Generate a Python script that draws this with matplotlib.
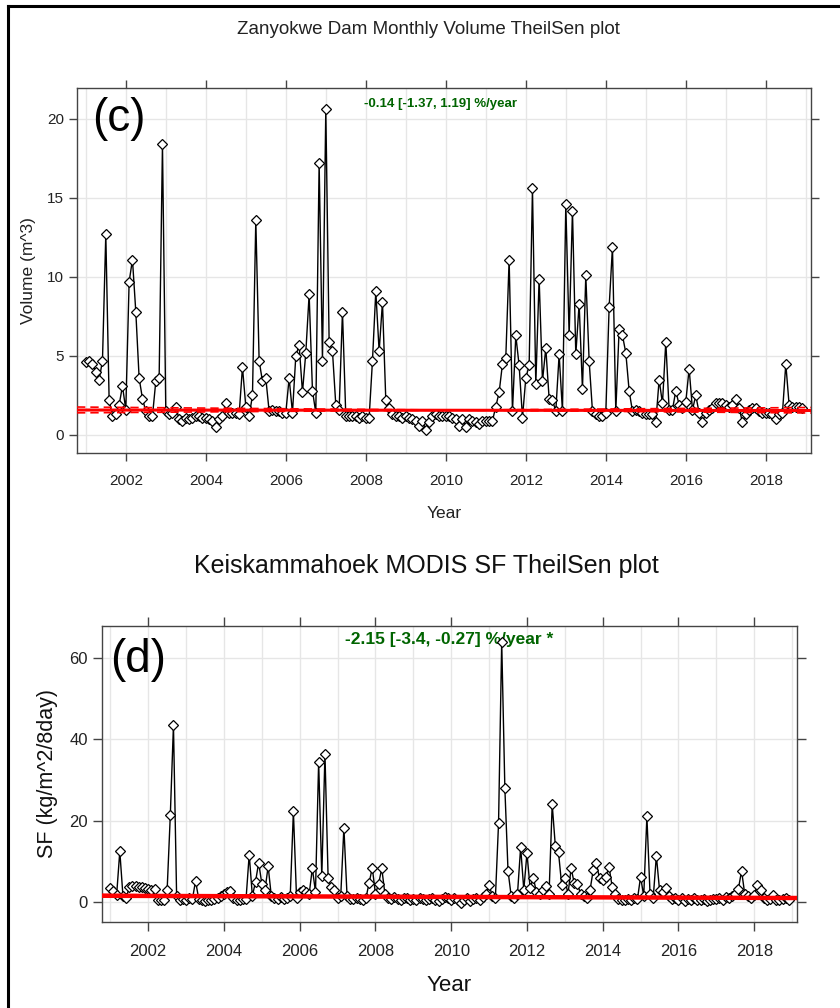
import matplotlib
matplotlib.use('Agg')
import matplotlib.pyplot as plt
import numpy as np
from matplotlib.lines import Line2D

# monthly series, Jan 2001 .. Dec 2018
volume = [
    4.6, 4.7, 4.5, 4.0, 3.5, 4.7, 12.7, 2.2, 1.2, 1.3, 1.9, 3.1,      # 2001
    1.6, 9.7, 11.1, 7.8, 3.6, 2.3, 1.5, 1.2, 1.2, 3.4, 3.6, 18.4,     # 2002
    1.5, 1.3, 1.4, 1.8, 1.0, 0.9, 1.1, 1.0, 1.1, 1.2, 1.2, 1.1,       # 2003
    1.1, 1.0, 0.9, 0.5, 1.0, 1.2, 2.0, 1.4, 1.4, 1.4, 1.3, 4.3,       # 2004
    1.8, 1.2, 2.5, 13.6, 4.7, 3.4, 3.6, 1.5, 1.6, 1.5, 1.5, 1.4,      # 2005
    1.4, 3.6, 1.4, 5.0, 5.7, 2.7, 5.2, 8.9, 2.8, 1.4, 17.2, 4.7,      # 2006
    20.6, 5.9, 5.3, 1.9, 1.6, 7.8, 1.2, 1.2, 1.2, 1.2, 1.1, 1.2,      # 2007
    1.1, 1.1, 4.7, 9.1, 5.3, 8.4, 2.2, 1.7, 1.3, 1.2, 1.2, 1.1,       # 2008
    1.2, 1.1, 1.0, 0.9, 0.6, 0.9, 0.3, 0.8, 1.2, 1.3, 1.2, 1.2,       # 2009
    1.2, 1.2, 1.1, 1.0, 0.6, 1.0, 0.5, 1.0, 0.9, 0.8, 0.7, 0.9,       # 2010
    0.9, 0.9, 0.9, 1.8, 2.7, 4.5, 4.9, 11.1, 1.5, 6.3, 4.4, 1.1,      # 2011
    3.6, 4.4, 15.6, 3.2, 9.9, 3.4, 5.5, 2.3, 2.2, 1.5, 5.1, 1.5,      # 2012
    14.6, 6.3, 14.2, 5.1, 8.3, 2.9, 10.1, 4.7, 1.5, 1.3, 1.2, 1.2,    # 2013
    1.4, 8.1, 11.9, 1.5, 6.7, 6.3, 5.2, 2.8, 1.5, 1.6, 1.5, 1.4,      # 2014
    1.3, 1.3, 1.3, 0.8, 3.5, 2.0, 5.9, 1.6, 1.6, 2.8, 1.9, 1.7,       # 2015
    2.1, 4.2, 1.6, 2.5, 1.4, 0.8, 1.4, 1.6, 1.7, 2.0, 2.0, 2.0,       # 2016
    1.9, 1.8, 1.9, 2.3, 1.7, 0.8, 1.3, 1.6, 1.7, 1.7, 1.5, 1.4,       # 2017
    1.4, 1.4, 1.3, 1.0, 1.3, 1.4, 4.5, 1.9, 1.8, 1.8, 1.8, 1.7,       # 2018
]

snowfall = [
    3.4, 2.7, 1.8, 12.5, 1.5, 1.0, 3.6, 4.0, 4.0, 3.8, 3.6, 3.5,      # 2001
    3.2, 3.0, 3.3, 0.6, 0.4, 0.6, 3.0, 21.3, 43.5, 1.5, 0.5, 0.8,     # 2002
    0.5, 1.0, 0.7, 5.2, 0.8, 0.5, 0.3, 0.6, 0.5, 0.8, 1.0, 1.5,       # 2003
    2.0, 2.5, 2.8, 1.0, 0.5, 0.5, 0.7, 0.8, 11.7, 1.5, 5.0, 9.7,      # 2004
    4.5, 3.0, 8.8, 1.5, 1.0, 0.8, 1.2, 0.8, 1.0, 1.5, 22.3, 1.0,      # 2005
    2.5, 3.0, 2.5, 2.0, 8.3, 2.5, 34.5, 6.3, 36.5, 6.0, 3.6, 3.0,     # 2006
    1.0, 1.5, 18.3, 1.5, 0.8, 0.7, 1.0, 0.8, 0.6, 1.0, 4.8, 8.4,      # 2007
    2.0, 4.5, 8.3, 2.0, 1.0, 0.8, 1.2, 0.8, 0.6, 0.9, 1.0, 0.5,       # 2008
    0.8, 0.5, 1.0, 0.7, 0.4, 0.8, 1.0, 0.6, 0.3, 0.8, 1.2, 0.9,       # 2009
    0.6, 1.0, 0.4, -0.2, 0.5, 0.9, 0.3, 0.8, 1.0, 0.6, 1.2, 2.0,      # 2010
    4.3, 1.5, 1.0, 19.4, 64.0, 28.0, 7.7, 1.5, 1.0, 2.0, 13.5, 3.0,   # 2011
    12.0, 3.5, 6.0, 2.5, 2.0, 3.0, 4.0, 2.0, 24.0, 13.7, 12.2, 4.2,   # 2012
    5.8, 2.0, 8.3, 4.6, 4.5, 2.0, 1.5, 1.0, 3.0, 7.9, 9.5, 5.8,       # 2013
    5.5, 6.2, 8.7, 3.8, 2.0, 0.8, 0.6, 0.5, 0.8, 0.5, 1.0, 0.7,       # 2014
    6.2, 1.5, 21.1, 2.0, 1.0, 11.4, 3.0, 2.5, 3.5, 1.5, 0.8, 1.0,     # 2015
    0.5, 1.0, 0.3, 0.8, 0.5, 1.0, 0.4, 0.6, 0.8, 0.3, 0.5, 0.7,       # 2016
    0.8, 1.0, 0.6, 1.2, 0.9, 1.5, 2.0, 3.3, 7.7, 2.0, 1.5, 1.0,       # 2017
    1.8, 4.2, 3.0, 1.0, 0.6, 0.8, 1.8, 0.5, 0.4, 0.8, 1.0, 0.5,       # 2018
]

start_year = 2001
years = start_year + np.arange(len(volume)) / 12.0
year_ticks = list(range(2002, 2019, 2))

# Theil-Sen lines: value at left / right edge of the axes
vol_trend = (1.58, 1.55)
vol_lower = (1.77, 1.39)
vol_upper = (1.40, 1.74)
sf_trend = (1.55, 1.00)
sf_lower = (1.85, 0.85)
sf_upper = (1.30, 1.20)

vol_label = '-0.14 [-1.37, 1.19] %/year'
sf_label = '-2.15 [-3.4, -0.27] %/year *'

FONT = ['Liberation Sans', 'DejaVu Sans']

W, H = 840, 1008
fig = plt.figure(figsize=(W / 100, H / 100), dpi=100)


def px_axes(l, t, r, b):
    return fig.add_axes([l / W, 1 - b / H, (r - l) / W, (b - t) / H])


def style_axes(ax, xlim, ylim, yticks, tick_fs, tick_len, xpad):
    ax.set_xlim(*xlim)
    ax.set_ylim(*ylim)
    ax.set_xticks(year_ticks)
    ax.set_xticks(range(2001, 2020), minor=True)
    ax.set_yticks(yticks)
    ax.grid(True, which='both', axis='x', color='#e6e6e6', lw=1)
    ax.grid(True, which='major', axis='y', color='#e6e6e6', lw=1)
    ax.set_axisbelow(True)
    for s in ax.spines.values():
        s.set_color('#444444')
        s.set_linewidth(1.0)
    ax.tick_params(which='major', direction='out', length=tick_len, width=1, color='#444444',
                   top=True, right=True, labelsize=tick_fs, labelcolor='#222222')
    ax.tick_params(axis='x', which='major', pad=xpad)
    ax.tick_params(which='minor', length=0)
    for lab in ax.get_xticklabels() + ax.get_yticklabels():
        lab.set_family(FONT)


def draw_series(ax, y, trend, lo, hi, lw_trend, xlim):
    ax.plot(years, y, color='black', lw=1.0, zorder=3)
    ax.plot(years, y, ls='none', marker='D', ms=5.5, mfc='white', mec='black', mew=0.9, zorder=4)
    ax.plot(xlim, trend, color='#ff0000', lw=lw_trend, zorder=5)
    ax.plot(xlim, lo, color='#ff0000', lw=1.2, ls=(0, (5, 3)), zorder=5)
    ax.plot(xlim, hi, color='#ff0000', lw=1.2, ls=(0, (5, 3)), zorder=5)


xlim = (2000.78, 2019.13)

# ---- panel (c) ----
ax1 = px_axes(77, 88, 811, 453)
draw_series(ax1, volume, vol_trend, vol_lower, vol_upper, 2.2, xlim)
style_axes(ax1, xlim, (-1.14, 21.96), [0, 5, 10, 15, 20], 11, 5.8, 9)
fig.text(428 / W, 1 - 30 / H, 'Zanyokwe Dam Monthly Volume TheilSen plot',
         ha='center', va='center', fontsize=13.5, family=FONT, color='#222222')
ax1.text(0.495, 0.955, vol_label, transform=ax1.transAxes, ha='center', va='center',
         fontsize=9.5, fontweight='bold', color='#006400', family=FONT)
ax1.text(0.02, 0.915, '(c)', transform=ax1.transAxes, ha='left', va='center',
         fontsize=33, family=FONT, color='black')
ax1.set_ylabel('Volume (m^3)', fontsize=12.5, family=FONT, color='#222222', labelpad=8)
ax1.set_xlabel('Year', fontsize=12.5, family=FONT, color='#222222', labelpad=13)

# ---- panel (d) ----
ax2 = px_axes(102, 626, 797, 922)
draw_series(ax2, snowfall, sf_trend, sf_lower, sf_upper, 3.2, xlim)
style_axes(ax2, xlim, (-4.9, 67.9), [0, 20, 40, 60], 12, 6.5, 9)
fig.text(426 / W, 1 - 566 / H, 'Keiskammahoek MODIS SF TheilSen plot',
         ha='center', va='center', fontsize=18, family=FONT, color='#111111')
ax2.text(0.50, 0.955, sf_label, transform=ax2.transAxes, ha='center', va='center',
         fontsize=12.5, fontweight='bold', color='#006400', family=FONT)
ax2.text(0.012, 0.885, '(d)', transform=ax2.transAxes, ha='left', va='center',
         fontsize=33, family=FONT, color='black')
ax2.set_ylabel('SF (kg/m^2/8day)', fontsize=15.5, family=FONT, color='#111111', labelpad=8)
ax2.set_xlabel('Year', fontsize=16, family=FONT, color='#111111', labelpad=12)

# outer frame (left and top edges of the composite)
fig.add_artist(Line2D([8 / W, 8 / W], [0, 1 - 6 / H], color='black', lw=2.2,
                      transform=fig.transFigure))
fig.add_artist(Line2D([8 / W, 1], [1 - 6 / H, 1 - 6 / H], color='black', lw=2.2,
                      transform=fig.transFigure))

fig.savefig('out.png', dpi=100, facecolor='white')
